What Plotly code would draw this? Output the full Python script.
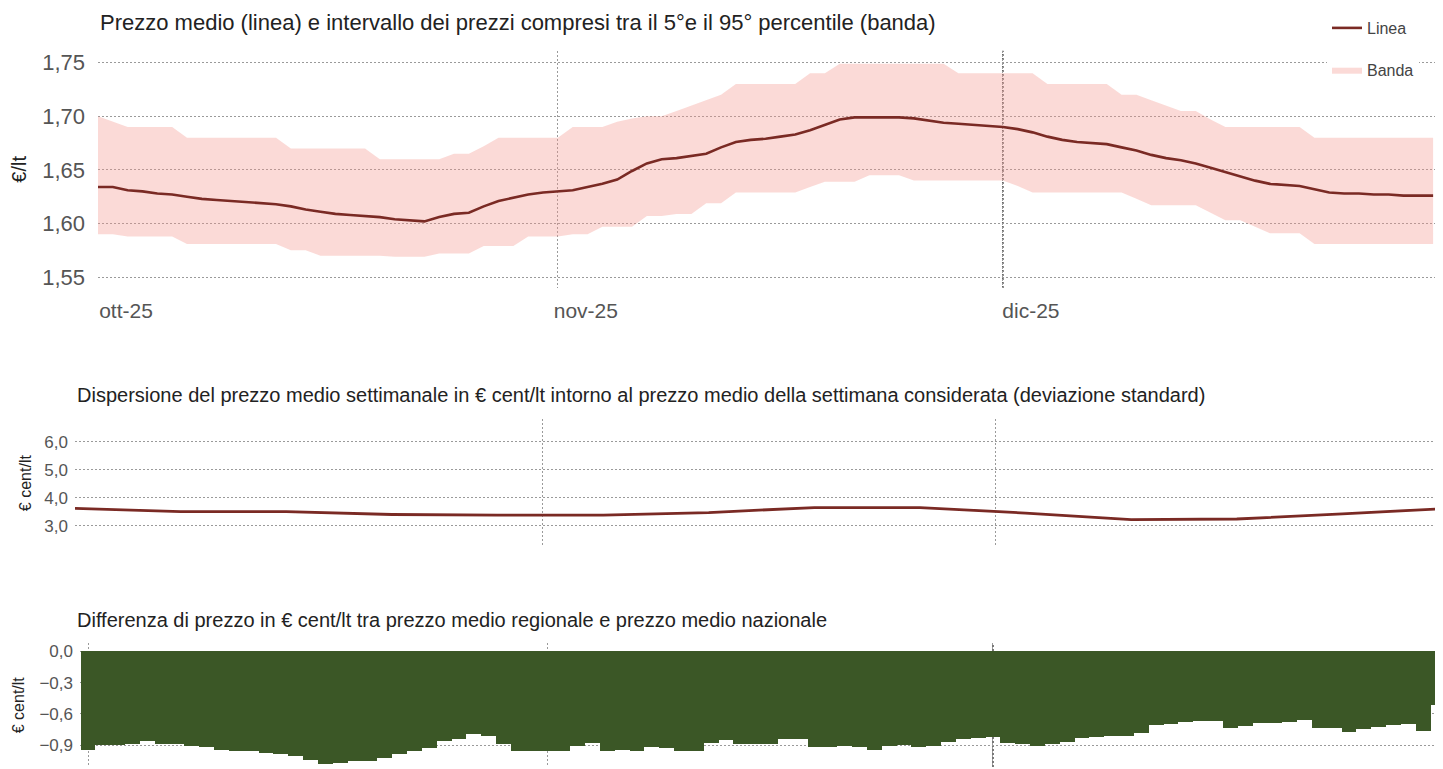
import pandas as pd
import plotly.graph_objects as go

# --- dati ---------------------------------------------------------------
giorni = pd.date_range("2025-10-01", "2025-12-30", freq="D")

prezzo_medio = [
    1.634, 1.634, 1.631, 1.630, 1.628, 1.627, 1.625, 1.623, 1.622, 1.621,
    1.620, 1.619, 1.618, 1.616, 1.613, 1.611, 1.609, 1.608, 1.607, 1.606,
    1.604, 1.603, 1.602, 1.606, 1.609, 1.610, 1.616, 1.621, 1.624, 1.627,
    1.629, 1.630, 1.631, 1.634, 1.637, 1.641, 1.649, 1.656, 1.660, 1.661,
    1.663, 1.665, 1.671, 1.676, 1.678, 1.679, 1.681, 1.683, 1.687, 1.692,
    1.697, 1.699, 1.699, 1.699, 1.699, 1.698, 1.696, 1.694, 1.693, 1.692,
    1.691, 1.690, 1.688, 1.685, 1.681, 1.678, 1.676, 1.675, 1.674, 1.671,
    1.668, 1.664, 1.661, 1.659, 1.656, 1.652, 1.648, 1.644, 1.640, 1.637,
    1.636, 1.635, 1.632, 1.629, 1.628, 1.628, 1.627, 1.627, 1.626, 1.626,
    1.626,
]
banda_sup = [
    1.700, 1.695, 1.690, 1.690, 1.690, 1.690, 1.680, 1.680, 1.680, 1.680,
    1.680, 1.680, 1.680, 1.670, 1.670, 1.670, 1.670, 1.670, 1.670, 1.660,
    1.660, 1.660, 1.660, 1.660, 1.665, 1.665, 1.672, 1.680, 1.680, 1.680,
    1.680, 1.680, 1.690, 1.690, 1.690, 1.695, 1.698, 1.700, 1.700, 1.705,
    1.710, 1.715, 1.720, 1.730, 1.730, 1.730, 1.730, 1.730, 1.740, 1.740,
    1.749, 1.749, 1.749, 1.749, 1.749, 1.749, 1.749, 1.749, 1.740, 1.740,
    1.740, 1.740, 1.740, 1.740, 1.730, 1.730, 1.730, 1.730, 1.730, 1.720,
    1.720, 1.715, 1.710, 1.705, 1.705, 1.697, 1.690, 1.690, 1.690, 1.690,
    1.690, 1.690, 1.680, 1.680, 1.680, 1.680, 1.680, 1.680, 1.680, 1.680,
    1.680,
]
banda_inf = [
    1.590, 1.590, 1.588, 1.588, 1.588, 1.588, 1.581, 1.581, 1.581, 1.581,
    1.581, 1.581, 1.581, 1.575, 1.575, 1.570, 1.570, 1.570, 1.570, 1.570,
    1.569, 1.569, 1.569, 1.572, 1.572, 1.572, 1.579, 1.579, 1.579, 1.588,
    1.588, 1.588, 1.590, 1.590, 1.597, 1.597, 1.597, 1.607, 1.607, 1.609,
    1.609, 1.619, 1.619, 1.629, 1.629, 1.629, 1.629, 1.629, 1.634, 1.639,
    1.639, 1.639, 1.645, 1.645, 1.645, 1.640, 1.640, 1.640, 1.640, 1.640,
    1.640, 1.640, 1.635, 1.629, 1.629, 1.629, 1.629, 1.629, 1.629, 1.629,
    1.623, 1.617, 1.617, 1.617, 1.617, 1.610, 1.603, 1.603, 1.597, 1.591,
    1.591, 1.591, 1.581, 1.581, 1.581, 1.581, 1.581, 1.581, 1.581, 1.581,
    1.581,
]

settimane = pd.date_range("2025-10-01", periods=14, freq="7D")
dev_std = [3.62, 3.50, 3.50, 3.40, 3.38, 3.38, 3.47, 3.65, 3.65, 3.45,
           3.22, 3.24, 3.42, 3.62]

giorni_diff = pd.date_range("2025-10-01", "2025-12-31", freq="D")
differenza = [
    -0.95, -0.90, -0.90, -0.89, -0.86, -0.89, -0.89, -0.91, -0.92, -0.95,
    -0.96, -0.96, -0.98, -0.99, -1.01, -1.04, -1.08, -1.07, -1.05, -1.05,
    -1.02, -0.99, -0.96, -0.93, -0.86, -0.84, -0.80, -0.81, -0.89, -0.96,
    -0.96, -0.96, -0.96, -0.91, -0.88, -0.96, -0.95, -0.96, -0.92, -0.93,
    -0.96, -0.96, -0.88, -0.85, -0.89, -0.89, -0.89, -0.84, -0.84, -0.92,
    -0.92, -0.91, -0.92, -0.95, -0.91, -0.90, -0.92, -0.91, -0.87, -0.84,
    -0.83, -0.82, -0.88, -0.89, -0.91, -0.89, -0.87, -0.83, -0.82, -0.81,
    -0.81, -0.79, -0.71, -0.70, -0.68, -0.67, -0.67, -0.74, -0.72, -0.69,
    -0.69, -0.68, -0.66, -0.74, -0.74, -0.78, -0.75, -0.73, -0.71, -0.70,
    -0.77, -0.52,
]

mesi = ["2025-10-01", "2025-11-01", "2025-12-01"]
etichette_mesi = ["ott-25", "nov-25", "dic-25"]

# --- figura -------------------------------------------------------------
# la pagina ha un margine di 8px: la figura parte da (8, 8)
OFF = 8
W, H = 1443 - OFF, 769 - OFF


def px(x):
    return (x - OFF) / W


def py(y):
    return 1 - (y - OFF) / H


rosso = "#7a2a24"
verde = "#3b5726"
griglia = "#9a9a9a"
punti = "2px,2px"

fig = go.Figure()

fig.add_trace(go.Scatter(x=giorni, y=banda_inf, mode="lines",
                         line=dict(width=0, color="rgba(0,0,0,0)"),
                         showlegend=False, hoverinfo="skip",
                         xaxis="x", yaxis="y"))
fig.add_trace(go.Scatter(x=giorni, y=banda_sup, mode="lines", name="Banda",
                         line=dict(width=0, color="rgba(0,0,0,0)"),
                         fill="tonexty", fillcolor="rgba(244,150,140,0.35)",
                         legendgroup="b", legendrank=2,
                         xaxis="x", yaxis="y"))
fig.add_trace(go.Scatter(x=giorni, y=prezzo_medio, mode="lines", name="Linea",
                         line=dict(width=2.6, color=rosso),
                         legendgroup="a", legendrank=1,
                         xaxis="x", yaxis="y"))

fig.add_trace(go.Scatter(x=settimane, y=dev_std, mode="lines",
                         line=dict(width=2.8, color=rosso),
                         showlegend=False, xaxis="x2", yaxis="y2"))

fig.add_trace(go.Bar(x=giorni_diff, y=differenza, marker=dict(color=verde, line=dict(width=0)),
                     showlegend=False, xaxis="x3", yaxis="y3"))

asse_x = dict(type="date", tickvals=mesi, showline=False, zeroline=False,
              showgrid=True, gridcolor=griglia, griddash=punti, gridwidth=1,
              ticks="")
asse_y = dict(showline=False, zeroline=False, showgrid=True,
              gridcolor=griglia, griddash=punti, gridwidth=1, ticks="",
              tickfont=dict(color="#555"))

x_range = ["2025-10-01", "2025-12-30 16:00"]

fig.update_layout(
    width=W, height=H,
    margin=dict(l=0, r=0, t=0, b=0),
    paper_bgcolor="white", plot_bgcolor="white",
    separators=",.",
    font=dict(family="Liberation Sans, Arial, sans-serif", color="#555"),
    bargap=0,
    showlegend=True,
    legend=dict(x=px(1327), y=py(10), xanchor="left", yanchor="top",
                bgcolor="white", font=dict(size=16, color="#444"),
                tracegroupgap=18),
    xaxis=dict(asse_x, domain=[px(98), 1], anchor="y", range=x_range,
               ticktext=etichette_mesi, tickfont=dict(size=21, color="#555"),
               ticklabelshift=28, ticklabelstandoff=8),
    yaxis=dict(asse_y, domain=[py(288), py(50)], anchor="x",
               range=[1.540, 1.761], tickvals=[1.55, 1.60, 1.65, 1.70, 1.75],
               tickformat=".2f", tickfont=dict(size=22, color="#555"),
               ticklabelstandoff=12,
               title=dict(text="€/lt", font=dict(size=20, color="#222"), standoff=10)),
    xaxis2=dict(asse_x, domain=[px(75), 1], anchor="y2", range=x_range,
                showticklabels=False),
    yaxis2=dict(asse_y, domain=[py(548), py(420)], anchor="x2",
                range=[2.24, 6.81], tickvals=[3, 4, 5, 6], tickformat=".1f",
                tickfont=dict(size=17, color="#555"), ticklabelstandoff=6,
                title=dict(text="€ cent/lt", font=dict(size=16, color="#222"), standoff=8)),
    xaxis3=dict(asse_x, domain=[px(80), 1], anchor="y3",
                range=["2025-09-30 11:00", "2025-12-31 08:00"],
                showticklabels=False),
    yaxis3=dict(asse_y, domain=[0, py(645)], anchor="x3",
                range=[-1.106, 0.073], tickvals=[0, -0.3, -0.6, -0.9],
                tickformat=".1f", tickfont=dict(size=17, color="#555"),
                ticklabelstandoff=6,
                title=dict(text="€ cent/lt", font=dict(size=16, color="#222"), standoff=10)),
)

# linea di dicembre più scura
for xr, yr in [("x", "y domain"), ("x3", "y3 domain")]:
    fig.add_shape(type="line", xref=xr, yref=yr, x0="2025-12-01", x1="2025-12-01",
                  y0=0, y1=1, line=dict(color="#222", width=1.2, dash="2px,2px"),
                  layer="below")

titoli = [
    ("Prezzo medio (linea) e intervallo dei prezzi compresi tra il 5°e il 95° percentile (banda)", 98, 22, 22),
    ("Dispersione del prezzo medio settimanale in € cent/lt intorno al prezzo medio della settimana considerata (deviazione standard)", 75, 396, 20),
    ("Differenza di prezzo in € cent/lt tra prezzo medio regionale e prezzo medio nazionale", 75, 621, 20),
]
for testo, tx, ty, size in titoli:
    fig.add_annotation(text=testo, xref="paper", yref="paper", x=px(tx), y=py(ty),
                       xanchor="left", yanchor="middle", showarrow=False,
                       font=dict(size=size, color="#222"))

fig.write_html("out.html")
